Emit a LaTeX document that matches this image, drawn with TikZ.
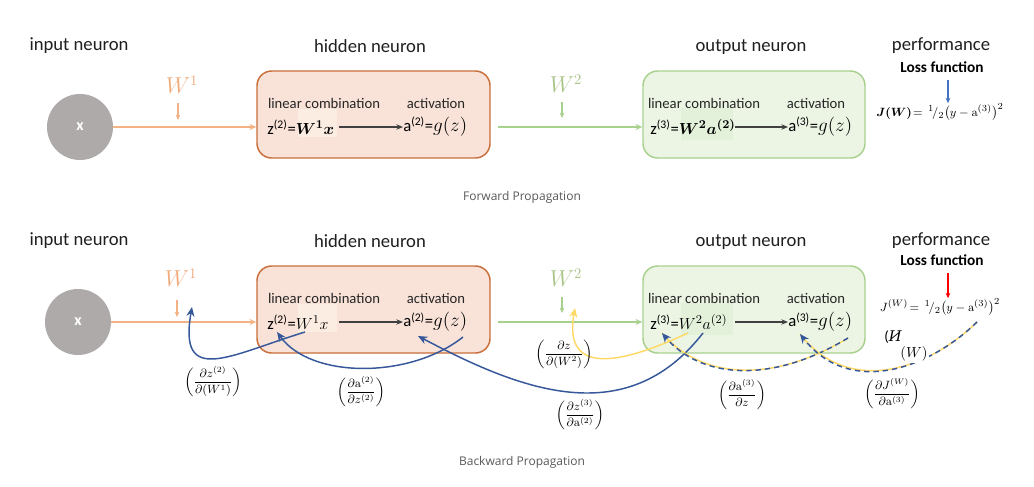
\documentclass[tikz,border=0pt]{standalone}
\usepackage{amsmath}
\usepackage{bm}
\usepackage[no-math]{fontspec}
\setmainfont{Carlito}
\newfontfamily\capfont{Open Sans}
\newfontfamily\cyrfont{DejaVu Serif}
\usetikzlibrary{arrows.meta}
\definecolor{neurongray}{HTML}{AEAAAA}
\definecolor{orangeln}{HTML}{F4B183}
\definecolor{worange}{HTML}{F2AC7C}
\definecolor{hidfill}{HTML}{F9E3D8}
\definecolor{hidhl}{HTML}{FCEDE3}
\definecolor{hidborder}{HTML}{C96F3B}
\definecolor{greenln}{HTML}{A9D18E}
\definecolor{wgreen}{HTML}{AAC58A}
\definecolor{outfill}{HTML}{ECF5E4}
\definecolor{outhl}{HTML}{E3F1DA}
\definecolor{outborder}{HTML}{A9D18E}
\definecolor{darkar}{HTML}{404040}
\definecolor{backblue}{HTML}{36579A}
\definecolor{yel}{HTML}{FFD966}
\definecolor{topblue}{HTML}{4472C4}
\definecolor{capgray}{HTML}{595959}
\newcommand{\halfsl}{{}^{1}\!/{}_{2}}
\newcommand{\gz}{{\fontsize{15}{17}\selectfont$g(z)$}}
\tikzset{
  titletxt/.style={font=\fontsize{14}{16}\selectfont, text=black!88, inner sep=0pt},
  subtxt/.style={font=\fontsize{11}{13}\selectfont, text=black!85, inner sep=0pt},
  losstxt/.style={font=\bfseries\fontsize{11.5}{13}\selectfont, inner sep=0pt},
  neuron/.style={circle, fill=neurongray, minimum size=49.5pt, inner sep=0pt, text=white, font=\bfseries\fontsize{12}{14}\selectfont},
  hidbox/.style={draw=hidborder, fill=hidfill, rounded corners=11pt, line width=1.1pt, minimum width=174.75pt, minimum height=65.25pt},
  outbox/.style={draw=outborder, fill=outfill, rounded corners=11pt, line width=1.1pt, minimum width=166.5pt, minimum height=65.25pt},
  eqtxt/.style={font=\fontsize{12.5}{15}\selectfont, inner sep=0pt},
  wlab/.style={font=\fontsize{16}{18}\selectfont, inner sep=0pt},
  jtxt/.style={font=\fontsize{9.5}{11}\selectfont, inner sep=0pt},
  derivtxt/.style={font=\fontsize{9}{11}\selectfont, inner sep=0pt},
  captxt/.style={font=\capfont\fontsize{9}{11}\selectfont, text=capgray, inner sep=0pt},
  fwdo/.style={draw=orangeln, line width=1pt, -{Stealth[length=5pt,width=4.5pt]}},
  fwdg/.style={draw=greenln, line width=1pt, -{Stealth[length=5pt,width=4.5pt]}},
  smallar/.style={line width=0.8pt, -{Stealth[length=4pt,width=3.5pt]}},
  inar/.style={draw=darkar, line width=0.8pt, -{Stealth[length=5pt,width=4pt]}},
  bkarrow/.style={draw=backblue, line width=1.1pt, -{Stealth[length=7pt,width=6pt]}},
  ybkarrow/.style={draw=yel, line width=1.1pt, -{Stealth[length=7pt,width=6pt]}},
  dbkarrow/.style={draw=backblue, line width=1.1pt, dash pattern=on 4pt off 3pt, -{Stealth[length=7pt,width=6pt]}},
  yunder/.style={draw=yel, line width=1.1pt},
}
\begin{document}
\begin{tikzpicture}[x=0.75pt,y=-0.75pt]
\useasboundingbox[fill=white] (0,0) rectangle (1034,486);

% ================= FORWARD =================
\node[titletxt] (tin1) at (79,46) {input neuron};
\node[titletxt] (thid1) at (370,46) {hidden neuron};
\node[titletxt] (tout1) at (751,47) {output neuron};
\node[titletxt] (tperf1) at (941,46) {performance};
\node[losstxt] (tloss1) at (942,67) {Loss function};

\node[neuron] (x1) at (80,127) {x};
\node[hidbox] (h1) at (373.5,114.5) {};
\node[outbox] (o1) at (754,114.5) {};
\fill[hidhl] (298,109) rectangle (337,137);
\fill[outhl] (681,108) rectangle (733,140);

\node[wlab, text=worange] (w11) at (182,85) {$W^{1}$};
\coordinate (w11a) at (178,103);
\coordinate (w11b) at (178,120);
\draw[smallar, orangeln] (w11a) -- (w11b);
\draw[fwdo] (x1.east) -- (h1.west |- x1.east);

\node[subtxt] (lc1) at (324,103) {linear combination};
\node[subtxt] (ac1) at (436,103) {activation};
\node[eqtxt, anchor=west] (z21) at (267,127) {z\textsuperscript{(2)}=$\bm{W^{1}x}$};
\node[eqtxt, anchor=west] (a21) at (403,127) {a\textsuperscript{(2)}=\gz};
\coordinate (ar1s) at (339,127);
\draw[inar] (ar1s) -- (a21.west |- ar1s);

\draw[fwdg] (h1.east |- x1.east) ++(7,0) coordinate (gs1) -- (o1.west |- gs1);
\node[wlab, text=wgreen] (w21) at (566,84) {$W^{2}$};
\coordinate (w21a) at (562,102);
\coordinate (w21b) at (562,118);
\draw[smallar, greenln] (w21a) -- (w21b);

\node[subtxt] (lc2) at (704,103) {linear combination};
\node[subtxt] (ac2) at (816,103) {activation};
\node[eqtxt, anchor=west] (z31) at (650,127) {z\textsuperscript{(3)}=$\bm{W^{2}a^{(2)}}$};
\node[eqtxt, anchor=west] (a31) at (788,127) {a\textsuperscript{(3)}=\gz};
\coordinate (ar2s) at (735,127);
\draw[inar] (ar2s) -- (a31.west |- ar2s);

\node[jtxt] (j1) at (940,112) {$\bm{J(W)}\!=\,\halfsl\bigl(y-\mathrm{a}^{(3)}\bigr)^{2}$};
\coordinate (jb1) at (948,80);
\draw[smallar, topblue] (jb1) -- (j1.north -| jb1);

\node[captxt] (fwd) at (522,197) {Forward Propagation};

% ================= BACKWARD =================
\node[titletxt] (tin2) at (79,241) {input neuron};
\node[titletxt] (thid2) at (370,241) {hidden neuron};
\node[titletxt] (tout2) at (751,242) {output neuron};
\node[titletxt] (tperf2) at (941,241) {performance};
\node[losstxt] (tloss2) at (942,260) {Loss function};

\node[neuron] (x2) at (78,322) {x};
\node[hidbox] (h2) at (373.5,309.5) {};
\node[outbox] (o2) at (754,309.5) {};
\fill[hidhl] (298,304) rectangle (337,332);
\fill[outhl] (681,303) rectangle (733,335);

\node[wlab, text=worange] (w12) at (181,278) {$W^{1}$};
\coordinate (w12a) at (177,300);
\coordinate (w12b) at (177,317);
\draw[smallar, orangeln] (w12a) -- (w12b);
\draw[fwdo] (x2.east) -- (h2.west |- x2.east);

\node[subtxt] (lc3) at (324,298) {linear combination};
\node[subtxt] (ac3) at (436,298) {activation};
\node[eqtxt, anchor=west] (z22) at (267,322) {z\textsuperscript{(2)}=$W^{1}x$};
\node[eqtxt, anchor=west] (a22) at (403,322) {a\textsuperscript{(2)}=\gz};
\coordinate (ar3s) at (339,322);
\draw[inar] (ar3s) -- (a22.west |- ar3s);

\draw[fwdg] (h2.east |- x2.east) ++(7,0) coordinate (gs2) -- (o2.west |- gs2);
\node[wlab, text=wgreen] (w22) at (566,278) {$W^{2}$};
\coordinate (w22a) at (562,297);
\coordinate (w22b) at (562,313);
\draw[smallar, greenln] (w22a) -- (w22b);

\node[subtxt] (lc4) at (704,298) {linear combination};
\node[subtxt] (ac4) at (816,298) {activation};
\node[eqtxt, anchor=west] (z32) at (650,322) {z\textsuperscript{(3)}=$W^{2}a^{(2)}$};
\node[eqtxt, anchor=west] (a32) at (788,322) {a\textsuperscript{(3)}=\gz};
\coordinate (ar4s) at (735,322);
\draw[inar] (ar4s) -- (a32.west |- ar4s);

\node[jtxt] (j2) at (940,307) {$J^{(W)}\!=\,\halfsl\bigl(y-\mathrm{a}^{(3)}\bigr)^{2}$};
\coordinate (jb2) at (948,273);
\draw[smallar, red] (jb2) -- (j2.north -| jb2);

% backward curves
\coordinate (c1s) at (305,332); \coordinate (c1e) at (192,307);
\coordinate (c2s) at (463,337); \coordinate (c2e) at (277,332);
\coordinate (c3s) at (703,333); \coordinate (c3e) at (418,336);
\coordinate (c4s) at (688,333); \coordinate (c4e) at (575,308);
\coordinate (c5s) at (848,338); \coordinate (c5e) at (662,333);
\coordinate (c6s) at (977,322); \coordinate (c6e) at (800,334);

\draw[bkarrow] (c1s) .. controls (230,355) and (178,387) .. (c1e);
\draw[bkarrow] (c2s) .. controls (410,379) and (311,379) .. (c2e);
\draw[ybkarrow] (c4s) .. controls (630,360) and (562,381) .. (c4e);
\draw[bkarrow] (c3s) .. controls (626,432) and (520,390) .. (c3e);
\draw[yunder] (c5s) .. controls (770,385) and (700,378) .. (c5e);
\draw[dbkarrow] (c5s) .. controls (770,385) and (700,378) .. (c5e);
\draw[yunder] (c6s) .. controls (930,368) and (850,398) .. (c6e);
\draw[dbkarrow] (c6s) .. controls (930,368) and (850,398) .. (c6e);

\node[font=\fontsize{11}{13}\selectfont, inner sep=0pt] (glA) at (893,337) {({\cyrfont\itshape И}};
\node[font=\fontsize{11}{13}\selectfont, fill=white, inner sep=1pt] (glB) at (914,354) {$(W)$};

\node[derivtxt] (d1) at (213,382) {$\left(\dfrac{\partial z^{(2)}}{\partial(W^{1})}\right)$};
\node[derivtxt] (d2) at (361,392) {$\left(\dfrac{\partial \mathrm{a}^{(2)}}{\partial z^{(2)}}\right)$};
\node[derivtxt] (d3) at (580,415) {$\left(\dfrac{\partial z^{(3)}}{\partial \mathrm{a}^{(2)}}\right)$};
\node[derivtxt] (d4) at (564,354) {$\left(\dfrac{\partial z}{\partial(W^{2})}\right)$};
\node[derivtxt] (d5) at (742,395) {$\left(\dfrac{\partial \mathrm{a}^{(3)}}{\partial z}\right)$};
\node[derivtxt] (d6) at (892,394) {$\left(\dfrac{\partial J^{(W)}}{\partial \mathrm{a}^{(3)}}\right)$};

\node[captxt] (bwd) at (522,462) {Backward Propagation};
\end{tikzpicture}
\end{document}
